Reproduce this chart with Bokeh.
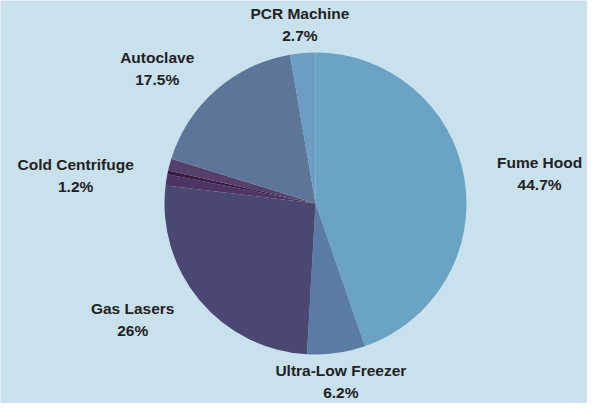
import math
from bokeh.plotting import figure
from bokeh.models import Range1d, ColumnDataSource
from bokeh.core.properties import value
from bokeh.embed import file_html
from bokeh.resources import INLINE

categories = ["Fume Hood", "Ultra-Low Freezer", "Gas Lasers", "Cold Centrifuge", "Other A", "Other B", "Autoclave", "PCR Machine"]
shares = [44.7, 6.2, 26.0, 1.2, 0.4, 1.3, 17.5, 2.7]
pct_labels = ["44.7%", "6.2%", "26%", "1.2%", "", "", "17.5%", "2.7%"]
show_label = [True, True, True, True, False, False, True, True]
colors = ["#6aa3c4", "#5a7ba3", "#4a4872", "#4c3563", "#3a1a42", "#54406b", "#5d7599", "#6d9dc2"]

W, H = 587, 403
CX, CY = 315, 203  # pie centre in pixels from top-left of figure
R = 151
LRX, LRY = 184, 180
FS = 15.5

# approximate bold sans glyph advance widths (per 1000 em) to centre the two label lines
ADV = {' ': 278, '%': 889, '-': 333, '.': 278, 'A': 722, 'C': 722, 'F': 611, 'G': 778, 'H': 722,
       'L': 611, 'M': 833, 'P': 667, 'R': 722, 'U': 722, 'a': 556, 'c': 556, 'd': 611, 'e': 556,
       'f': 333, 'g': 611, 'h': 611, 'i': 278, 'l': 278, 'm': 889, 'n': 611, 'o': 611, 'r': 389,
       's': 556, 't': 333, 'u': 611, 'v': 556, 'w': 778, 'z': 500}


def text_width(s):
    return sum(ADV.get(ch, 556) for ch in s) * FS / 1000.0


p = figure(width=W, height=H, output_backend="svg", toolbar_location=None,
           x_range=Range1d(-CX, W - CX), y_range=Range1d(-(H - CY), CY),
           min_border=0, background_fill_color="#c9e1ed", border_fill_color="#c9e1ed")
p.axis.visible = False
p.grid.visible = False
p.outline_line_color = None

total = sum(shares)
starts, ends, mids = [], [], []
c = 0.0
for s in shares:
    a0 = c / total
    c += s
    a1 = c / total
    starts.append(math.pi / 2 - 2 * math.pi * a0)
    ends.append(math.pi / 2 - 2 * math.pi * a1)
    mids.append(2 * math.pi * (a0 + a1) / 2)

src = ColumnDataSource(dict(start=starts, end=ends, color=colors, cat=categories))
p.wedge(x=0, y=0, radius=R, start_angle="start", end_angle="end", direction="clock",
        fill_color="color", line_color=None, source=src)

lx, ly, names, pcts = [], [], [], []
for cat, pct, m, sh in zip(categories, pct_labels, mids, show_label):
    if not sh:
        continue
    sx, cy = math.sin(m), math.cos(m)
    ax, ay = LRX * sx, LRY * cy
    bw = max(text_width(cat), text_width(pct))
    if sx > 0.3:
        ax += bw / 2
    elif sx < -0.3:
        ax -= bw / 2
    lx.append(ax)
    ly.append(ay)
    names.append(cat)
    pcts.append(pct)

lsrc = ColumnDataSource(dict(x=lx, y1=[y + 11 for y in ly], y2=[y - 11 for y in ly],
                             name=names, pct=pcts))
common = dict(text_font=value("Liberation Sans"), text_font_style="bold", text_font_size=f"{FS}px",
              text_color="#222222", text_baseline="middle", text_align="center", source=lsrc)
p.text(x="x", y="y1", text="name", **common)
p.text(x="x", y="y2", text="pct", **common)

open("out.html", "w").write(file_html(p, INLINE))
